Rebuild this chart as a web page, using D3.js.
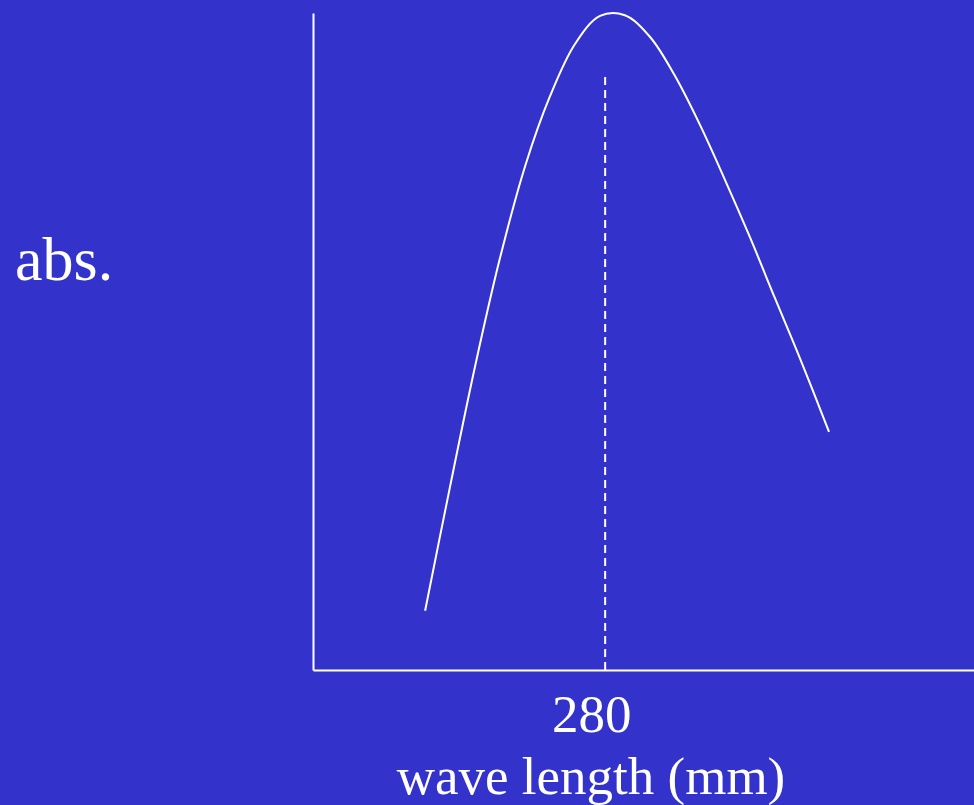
<!DOCTYPE html>
<html>
<head>
<meta charset="utf-8">
<script src="https://cdn.jsdelivr.net/npm/d3@7"></script>
<style>
  html, body { margin: 0; padding: 0; background: #3333cc; }
  svg { display: block; }
  text { font-family: "Liberation Serif", "Times New Roman", serif; fill: #ffffff; }
</style>
</head>
<body>
<svg id="chart" width="974" height="805"></svg>
<script>
// Absorption spectrum: wavelength (nm) and relative absorbance
const wavelengths = [230.7, 237.5, 244.4, 251.2, 258.1, 264.9, 271.7, 278.6, 285.4, 292.3, 299.1, 306.0, 312.8, 319.7, 326.5, 333.4, 341.3];
const absorbance  = [0.090, 0.278, 0.462, 0.626, 0.766, 0.872, 0.951, 0.994, 0.995, 0.962, 0.903, 0.828, 0.745, 0.657, 0.565, 0.473, 0.362];

// Marked wavelength and its reference line height
const markWavelength = [280];
const markHeight = [0.909];
const tickLabels = ["280"];

const xTitle = "wave length (mm)";
const yTitle = "abs.";

const svg = d3.select("#chart");
const W = 974, H = 805;

svg.append("rect").attr("width", W).attr("height", H).attr("fill", "#3333cc");

const x = d3.scaleLinear().domain([200, 381]).range([313, 974]);
const y = d3.scaleLinear().domain([0, 1]).range([670, 12]);

// Axes
const xAxis = d3.axisBottom(x)
  .tickValues(markWavelength)
  .tickFormat((d, i) => tickLabels[i])
  .tickSizeInner(0)
  .tickSizeOuter(0)
  .tickPadding(0);

const gx = svg.append("g").attr("transform", `translate(0,${y(0)})`).call(xAxis);
gx.select(".domain").attr("stroke", "#ffffff").attr("stroke-width", 2);
gx.selectAll(".tick text")
  .attr("font-size", 53)
  .attr("font-family", "Liberation Serif, serif")
  .attr("fill", "#ffffff")
  .attr("dx", -14)
  .attr("dy", 0)
  .attr("y", 62);

const yAxis = d3.axisLeft(d3.scaleLinear().domain([0, 1]).range([y(0), 13]))
  .tickValues([])
  .tickSizeOuter(0);
const gy = svg.append("g").attr("transform", `translate(${x(200)},0)`).call(yAxis);
gy.select(".domain").attr("stroke", "#ffffff").attr("stroke-width", 2);

// Dashed reference line at the marked wavelength
svg.selectAll(".mark")
  .data(markWavelength)
  .join("line")
  .attr("class", "mark")
  .attr("x1", d => x(d)).attr("x2", d => x(d))
  .attr("y1", y(0)).attr("y2", (d, i) => y(markHeight[i]))
  .attr("stroke", "#ffffff")
  .attr("stroke-width", 2)
  .attr("stroke-dasharray", "8,5");

// Spectrum curve
const pts = wavelengths.map((w, i) => [w, absorbance[i]]);
const line = d3.line()
  .x(d => x(d[0]))
  .y(d => y(d[1]))
  .curve(d3.curveCatmullRom.alpha(0.5));

svg.append("path")
  .datum(pts)
  .attr("d", line)
  .attr("fill", "none")
  .attr("stroke", "#ffffff")
  .attr("stroke-width", 2);

// Titles
svg.append("text")
  .attr("x", 591)
  .attr("y", 794)
  .attr("text-anchor", "middle")
  .attr("font-size", 53)
  .text(xTitle);

svg.append("text")
  .attr("x", 15)
  .attr("y", 280)
  .attr("font-size", 62)
  .text(yTitle);
</script>
</body>
</html>
